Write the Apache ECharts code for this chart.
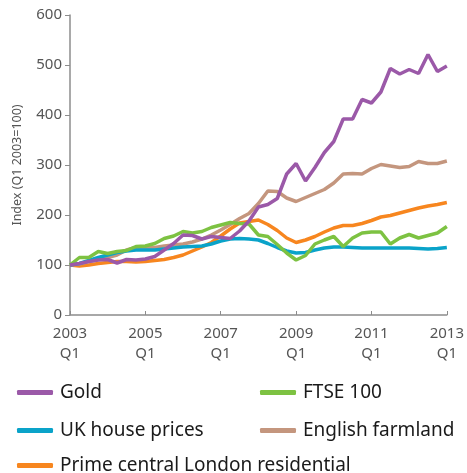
<!DOCTYPE html>
<html>
<head>
<meta charset="utf-8">
<script src="https://cdn.jsdelivr.net/npm/echarts@6/dist/echarts.min.js"></script>
<style>
html, body { margin: 0; padding: 0; background: #fff; }
#chart { width: 467px; height: 473px; }
</style>
</head>
<body>
<div id="chart"></div>
<script>
// quarters 2003 Q1 .. 2013 Q1
var years = ['2003','2004','2005','2006','2007','2008','2009','2010','2011','2012','2013'];
var quarters = [];
years.forEach(function (y) {
  ['Q1','Q2','Q3','Q4'].forEach(function (q) {
    if (y !== '2013' || q === 'Q1') quarters.push(y + ' ' + q);
  });
});

var gold = [100,103,107,110,111,104,111,110,112,117,130,143,160,159,152,157,155,153,168,188,
            216,221,233,282,303,268,295,325,347,392,392,431,424,446,493,482,491,483,521,487,498];
var ftse = [100,115,115,127,123,127,129,137,138,143,153,158,167,164,167,175,180,185,183,182,
            160,157,141,124,110,119,142,150,157,137,154,164,166,166,142,154,161,154,159,164,177];
var ukHouse = [100,103,109,115,120,125,128,130,130,130,132,134,136,137,138,142,148,152,153,152,
               150,143,135,128,124,125,130,134,136,136,135,134,134,134,134,134,134,133,132,133,135];
var farmland = [100,102,107,111,115,120,130,135,135,135,138,140,142,146,152,160,170,181,193,203,
                223,248,247,234,227,235,243,251,264,282,283,282,293,301,298,295,297,307,303,303,308];
var primeLondon = [100,98,100,103,105,107,107,106,107,109,111,115,120,128,136,145,158,172,184,187,
                   190,181,169,154,145,150,157,166,174,179,179,183,189,196,199,204,209,214,218,221,225];

var seriesNames = ['Gold','FTSE 100','UK house prices','English farmland','Prime central London residential'];
var colors = ['#9b59a8','#7dc242','#0aa3c9','#c4967e','#f7861f'];

var chart = echarts.init(document.getElementById('chart'));

var font = 'Noto Sans';
function legendAt(name, left, top) {
  return {
    data: [name],
    left: left,
    top: top,
    icon: 'roundRect',
    itemWidth: 36,
    itemHeight: 5,
    textStyle: { fontFamily: font, fontSize: 19, color: '#1a1a1a', padding: [0, 0, 0, 2] },
    selectedMode: false
  };
}

var series = [gold, ftse, ukHouse, farmland, primeLondon].map(function (d, i) {
  return {
    name: seriesNames[i],
    type: 'line',
    data: d,
    symbol: 'none',
    lineStyle: { width: 3.5, color: colors[i] },
    itemStyle: { color: colors[i] },
    z: 10 - i
  };
});

chart.setOption({
  animation: false,
  grid: { left: 70, right: 15, top: 15, bottom: 158 },
  legend: [
    legendAt('Gold', 12, 378),
    legendAt('FTSE 100', 255, 378),
    legendAt('UK house prices', 12, 416),
    legendAt('English farmland', 255, 416),
    legendAt('Prime central London residential', 12, 451)
  ],
  xAxis: {
    type: 'category',
    data: quarters,
    boundaryGap: false,
    axisLine: { lineStyle: { color: '#8c8c8c', width: 1.5 } },
    axisTick: { inside: true, length: 4, interval: 7, lineStyle: { color: '#8c8c8c' } },
    axisLabel: {
      interval: 7,
      margin: 9,
      fontFamily: font,
      fontSize: 15,
      lineHeight: 20,
      color: '#555555',
      formatter: function (v) { return v.replace(' ', '\n'); }
    },
    splitLine: { show: false }
  },
  yAxis: {
    type: 'value',
    min: 0,
    max: 600,
    interval: 100,
    name: 'Index (Q1 2003=100)',
    nameLocation: 'middle',
    nameGap: 46,
    nameTextStyle: { fontFamily: font, fontSize: 12.5, color: '#555555' },
    axisLine: { show: true, lineStyle: { color: '#8c8c8c', width: 1.5 } },
    axisTick: { show: true, length: 5, lineStyle: { color: '#8c8c8c' } },
    axisLabel: { fontFamily: font, fontSize: 15, color: '#555555', margin: 8 },
    splitLine: { show: false }
  },
  series: series
});
</script>
</body>
</html>
